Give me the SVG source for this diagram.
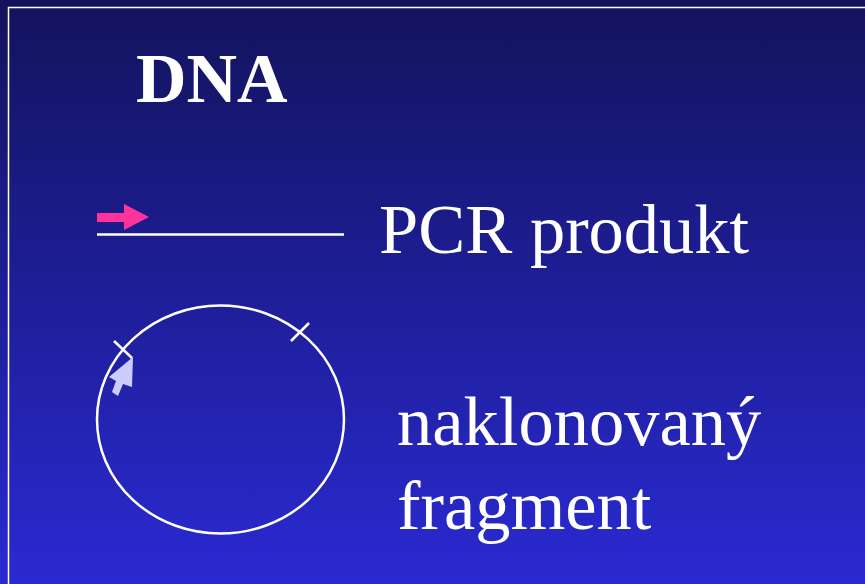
<svg xmlns="http://www.w3.org/2000/svg" width="865" height="584" viewBox="0 0 865 584">
<defs>
<linearGradient id="bg" x1="0" y1="0" x2="0" y2="1">
<stop offset="0" stop-color="#13135c"/>
<stop offset="0.5" stop-color="#1e1e98"/>
<stop offset="1" stop-color="#2a2ad2"/>
</linearGradient>
<style>
.t{font-family:"Liberation Serif","Times New Roman",serif;fill:#ffffff;font-size:70.5px}
.w{stroke:#ffffff;fill:none;stroke-width:2.5}
</style>
</defs>
<rect x="0" y="0" width="865" height="584" fill="url(#bg)"/>
<rect x="8.5" y="7.5" width="870" height="590" fill="none" stroke="#ffffff" stroke-width="1.5"/>
<g id="title"><text class="t" x="136" y="102" font-weight="bold" style="font-size:70px">DNA</text></g>
<g id="pcr">
<line class="w" x1="97" y1="234.5" x2="344" y2="234.5" stroke-width="3"/>
<polygon points="97,213 124,213 124,204 149,217 124,230 124,222 97,222" fill="#ff3399"/>
<text class="t" x="379" y="253">PCR produkt</text>
</g>
<g id="plasmid">
<ellipse class="w" cx="220.5" cy="419.5" rx="123.5" ry="114" stroke-width="2"/>
<line class="w" x1="114" y1="341" x2="132" y2="358" stroke-width="2"/>
<line class="w" x1="291" y1="341" x2="309" y2="323" stroke-width="2"/>
<polygon points="133,357 109,377 116,381 112,392 118,396 123,384 132,387" fill="#ccccff"/>
<text class="t" x="397" y="445">naklonovaný</text>
<text class="t" x="397" y="529">fragment</text>
</g>
</svg>
